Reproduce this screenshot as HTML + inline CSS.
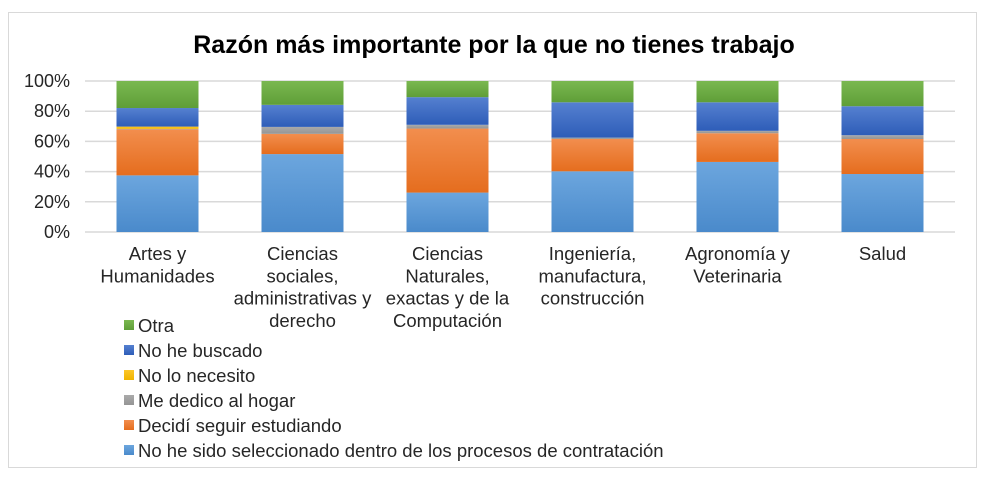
<!DOCTYPE html>
<html><head><meta charset="utf-8"><style>
body{margin:0;background:#fff;width:1001px;height:486px;overflow:hidden;font-family:"Liberation Sans",Arial,sans-serif}
</style></head><body>
<svg width="1001" height="486">
<defs>
<linearGradient id="g0" x1="0" y1="0" x2="0" y2="1"><stop offset="0" stop-color="#6ca6de"/><stop offset="1" stop-color="#4a8acb"/></linearGradient>
<linearGradient id="g1" x1="0" y1="0" x2="0" y2="1"><stop offset="0" stop-color="#f28e4e"/><stop offset="1" stop-color="#e56d1e"/></linearGradient>
<linearGradient id="g2" x1="0" y1="0" x2="0" y2="1"><stop offset="0" stop-color="#aaaaaa"/><stop offset="1" stop-color="#959595"/></linearGradient>
<linearGradient id="g3" x1="0" y1="0" x2="0" y2="1"><stop offset="0" stop-color="#fcc72a"/><stop offset="1" stop-color="#f0b400"/></linearGradient>
<linearGradient id="g4" x1="0" y1="0" x2="0" y2="1"><stop offset="0" stop-color="#5580d0"/><stop offset="1" stop-color="#2e5db8"/></linearGradient>
<linearGradient id="g5" x1="0" y1="0" x2="0" y2="1"><stop offset="0" stop-color="#7ab850"/><stop offset="1" stop-color="#5f9e38"/></linearGradient>
</defs>
<rect x="8.5" y="12.5" width="968" height="455" fill="#fff" stroke="#d9d9d9"/>
<text x="494" y="53" text-anchor="middle" font-size="25" font-weight="bold" fill="#000">Razón más importante por la que no tienes trabajo</text>
<g id="grid"></g><g id="bars"></g><g id="labels"></g><g id="legend"></g>
</svg>
<script>
const categories=[["Artes y","Humanidades"],["Ciencias","sociales,","administrativas y","derecho"],["Ciencias","Naturales,","exactas y de la","Computación"],["Ingeniería,","manufactura,","construcción"],["Agronomía y","Veterinaria"],["Salud"]];
const seriesNames=["No he sido seleccionado dentro de los procesos de contratación","Decidí seguir estudiando","Me dedico al hogar","No lo necesito","No he buscado","Otra"];
const seleccionado=[37.5,51.6,26.1,40.2,46.4,38.4];
const estudiando=[30.5,13.4,42.4,21.4,19.0,23.2];
const hogar=[0.3,4.6,2.5,0.9,1.6,2.5];
const necesito=[1.5,0,0,0,0,0];
const buscado=[12.3,14.6,18.3,23.4,18.9,19.2];
const otra=[17.9,15.8,10.7,14.1,14.1,16.7];
const ticks=["0%","20%","40%","60%","80%","100%"];
const series=[seleccionado,estudiando,hogar,necesito,buscado,otra];
const NS="http://www.w3.org/2000/svg";
const x0=85,x1=955,yb=232,yt=81;
const y=v=>yb-(v/100)*(yb-yt);
const band=(x1-x0)/categories.length;
const cx=i=>x0+band*(i+0.5);
function mk(tag,attrs,parent){const e=document.createElementNS(NS,tag);for(const k in attrs)e.setAttribute(k,attrs[k]);document.getElementById(parent).appendChild(e);return e;}
ticks.forEach((t,i)=>{const v=i*20;
const l=mk("line",{x1:x0,x2:x1,y1:y(v),y2:y(v),stroke:"#d9d9d9","stroke-width":1.5},"grid");


const tx=mk("text",{x:70,y:y(v)+6,"text-anchor":"end","font-size":18,fill:"#262626"},"grid");tx.textContent=t;


});
const bw=82;
categories.forEach((c,i)=>{let acc=0;
series.forEach((s,k)=>{const v=s[i];if(v<=0){return;}
const r=mk("rect",{x:cx(i)-bw/2,y:y(acc+v),width:bw,height:y(acc)-y(acc+v),fill:"url(#g"+k+")"},"bars");


acc+=v;});
const t=mk("text",{"text-anchor":"middle","font-size":18.5,fill:"#262626"},"labels");


c.forEach((ln,j)=>{const ts=document.createElementNS(NS,"tspan");ts.setAttribute("x",cx(i));ts.setAttribute("y",260+j*22.3);ts.textContent=ln;t.appendChild(ts);});
});
for(let k=5;k>=0;k--){const row=5-k;const yy=325+row*25;
const m=mk("rect",{x:124,y:yy-5,width:10,height:10,fill:"url(#g"+k+")"},"legend");


const t=mk("text",{x:138,y:yy+7,"font-size":18.5,fill:"#262626"},"legend");t.textContent=seriesNames[k];


}
</script>
</body></html>
